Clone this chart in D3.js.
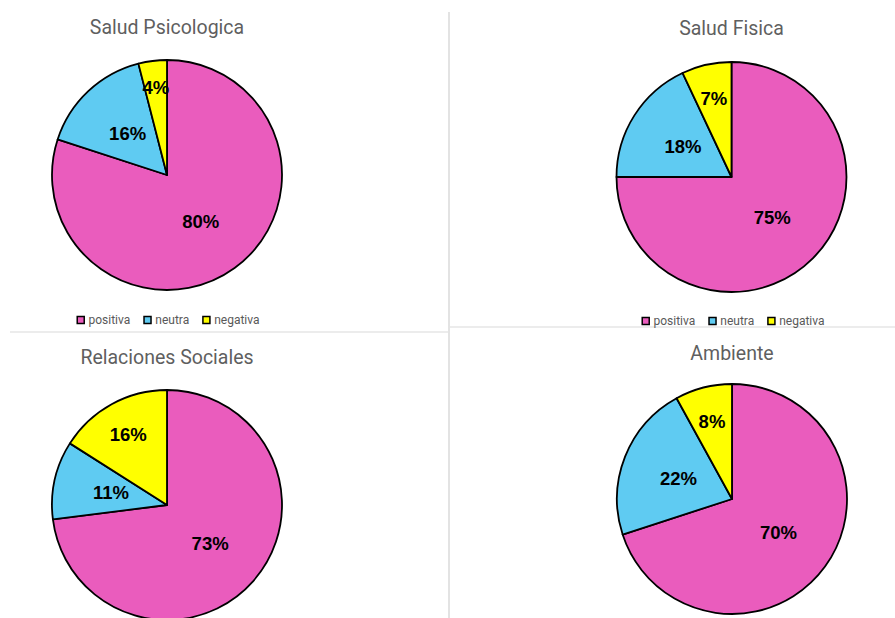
<!DOCTYPE html>
<meta charset="utf-8">
<script src="https://d3js.org/d3.v7.min.js"></script>
<style>
  body { margin: 0; background: #fff; }
  svg { display: block; }
  .title { font-family: Roboto, "Noto Sans", sans-serif; font-size: 19.5px; fill: #5f5f5f; }
  .legend text { font-family: Roboto, "Noto Sans", sans-serif; font-size: 12px; fill: #595959; }
  .label { font-family: "Liberation Sans", Arial, sans-serif; font-size: 18.5px; font-weight: bold; fill: #000; }
</style>
<body>
<div id="chart"></div>
<script>
// data
var categories = ["positiva", "neutra", "negativa"];
var titles = ["Salud Psicologica", "Salud Fisica", "Relaciones Sociales", "Ambiente"];
var psicologica = [80, 16, 4];
var fisica = [75, 18, 7];
var sociales = [73, 11, 16];
var ambiente = [70, 22, 8];
var colors = ["#ea5cbd", "#5fcbf2", "#ffff00"];

var width = 895, height = 618;

var svg = d3.select("#chart").append("svg")
  .attr("width", width)
  .attr("height", height);

// panel separators (Excel chart frames)
svg.append("line").attr("x1", 449).attr("x2", 449).attr("y1", 12).attr("y2", height)
  .attr("stroke", "#dadada").attr("stroke-width", 1.5);
svg.append("line").attr("x1", 10).attr("x2", 448).attr("y1", 332).attr("y2", 332)
  .attr("stroke", "#dadada").attr("stroke-width", 1.2);
svg.append("line").attr("x1", 450).attr("x2", width).attr("y1", 327).attr("y2", 327)
  .attr("stroke", "#dadada").attr("stroke-width", 1.2);

// where each chart sits
var panels = [
  {values: psicologica, cx: 167, cy: 175, titleY: 34, legendY: 320, legendX: 168},
  {values: fisica, cx: 731.5, cy: 177, titleY: 35, legendY: 321, legendX: 733},
  {values: sociales, cx: 167, cy: 505, titleY: 364, legendY: null},
  {values: ambiente, cx: 732, cy: 499, titleY: 360, legendY: null}
];

var radius = 115;
var pie = d3.pie().sort(null).value(function(d) { return d; });
var arc = d3.arc().innerRadius(0).outerRadius(radius);

panels.forEach(function(p, i) {
  var g = svg.append("g").attr("transform", "translate(" + p.cx + "," + p.cy + ")");

  svg.append("text")
    .attr("class", "title")
    .attr("x", p.cx)
    .attr("y", p.titleY)
    .attr("text-anchor", "middle")
    .text(titles[i]);

  var slices = pie(p.values);

  g.selectAll("path")
    .data(slices)
    .enter().append("path")
    .attr("d", arc)
    .attr("fill", function(d, j) { return colors[j]; })
    .attr("stroke", "#000")
    .attr("stroke-width", 1.8)
    .attr("stroke-linejoin", "round");

  // Excel "best fit": the last slice's label sits further out, more so when tiny
  g.selectAll("text.label")
    .data(slices)
    .enter().append("text")
    .attr("class", "label")
    .attr("text-anchor", "middle")
    .attr("dy", "0.36em")
    .attr("transform", function(d, j) {
      var f = j === 2 ? (d.data < 5 ? 0.77 : 0.7) : 0.5;
      var la = d3.arc().innerRadius(radius * f).outerRadius(radius * f);
      return "translate(" + la.centroid(d) + ")";
    })
    .text(function(d) { return d.data + "%"; });

  if (p.legendY !== null) {
    var legend = svg.append("g").attr("class", "legend");
    var x = 0;
    categories.forEach(function(c, j) {
      var item = legend.append("g").attr("transform", "translate(" + x + ",0)");
      item.append("rect")
        .attr("x", 0.75).attr("y", -3.5)
        .attr("width", 7).attr("height", 7)
        .attr("fill", colors[j])
        .attr("stroke", "#000")
        .attr("stroke-width", 1.5);
      var t = item.append("text")
        .attr("x", 12)
        .attr("dy", "0.35em")
        .text(c);
      x += 12 + t.node().getComputedTextLength() + 13;
    });
    var total = x - 13;
    legend.attr("transform", "translate(" + (p.legendX - total / 2) + "," + p.legendY + ")");
  }
});
</script>
</body>
